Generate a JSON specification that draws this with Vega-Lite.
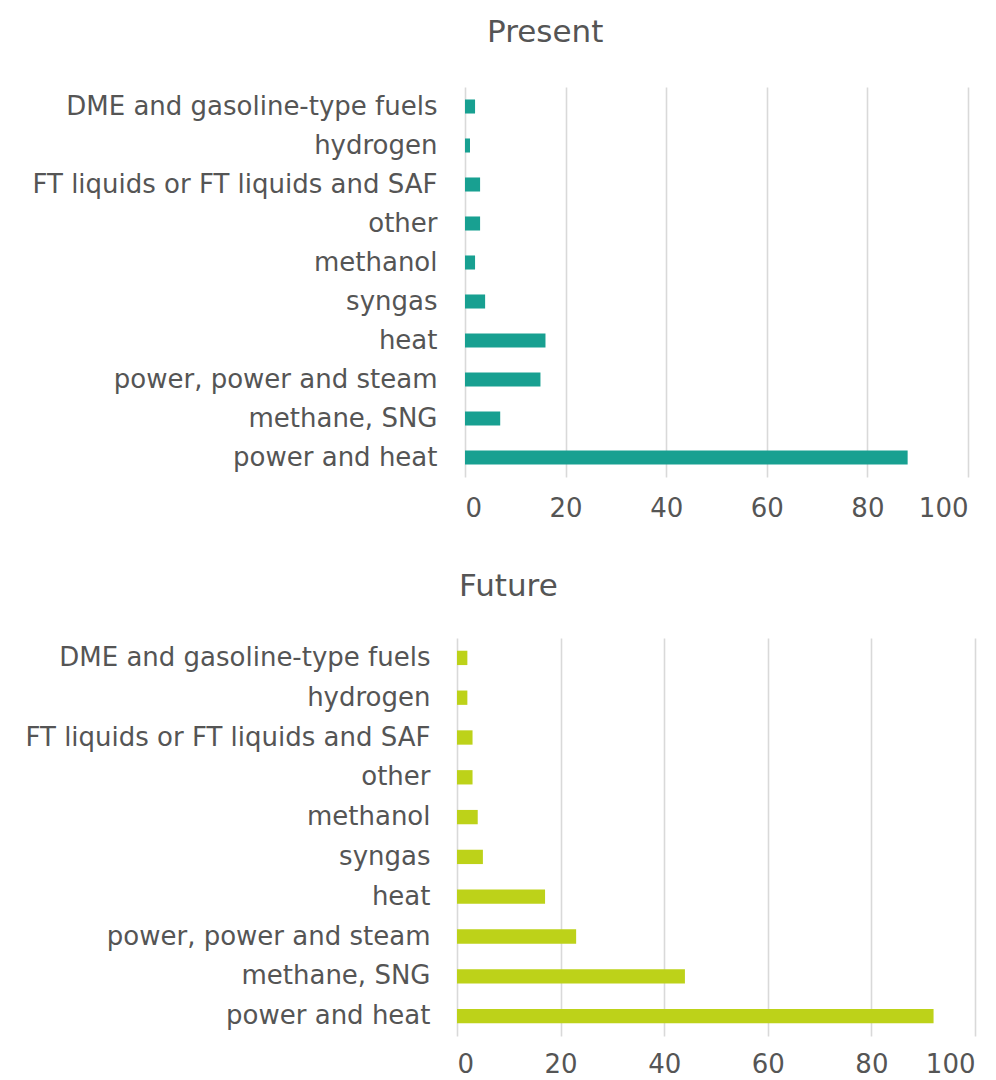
{
  "$schema": "https://vega.github.io/schema/vega-lite/v6.json",
  "background": "white",
  "padding": {"left": 8, "top": 17, "right": 14, "bottom": 4},
  "datasets": {
    "uses": [
      {"period": "Present", "use": "DME and gasoline-type fuels", "value": 2},
      {"period": "Present", "use": "hydrogen", "value": 1},
      {"period": "Present", "use": "FT liquids or FT liquids and SAF", "value": 3},
      {"period": "Present", "use": "other", "value": 3},
      {"period": "Present", "use": "methanol", "value": 2},
      {"period": "Present", "use": "syngas", "value": 4},
      {"period": "Present", "use": "heat", "value": 16},
      {"period": "Present", "use": "power, power and steam", "value": 15},
      {"period": "Present", "use": "methane, SNG", "value": 7},
      {"period": "Present", "use": "power and heat", "value": 88},
      {"period": "Future", "use": "DME and gasoline-type fuels", "value": 2},
      {"period": "Future", "use": "hydrogen", "value": 2},
      {"period": "Future", "use": "FT liquids or FT liquids and SAF", "value": 3},
      {"period": "Future", "use": "other", "value": 3},
      {"period": "Future", "use": "methanol", "value": 4},
      {"period": "Future", "use": "syngas", "value": 5},
      {"period": "Future", "use": "heat", "value": 17},
      {"period": "Future", "use": "power, power and steam", "value": 23},
      {"period": "Future", "use": "methane, SNG", "value": 44},
      {"period": "Future", "use": "power and heat", "value": 92}
    ]
  },
  "data": {"name": "uses"},
  "vconcat": [
    {
      "width": 511,
      "height": 390,
      "title": {"text": "Present", "dx": 30, "offset": 38},
      "transform": [{"filter": "datum.period === 'Present'"}],
      "mark": {"type": "bar", "color": "#18A091"},
      "encoding": {
        "y": {
          "field": "use",
          "type": "nominal",
          "sort": ["DME and gasoline-type fuels", "hydrogen", "FT liquids or FT liquids and SAF", "other", "methanol", "syngas", "heat", "power, power and steam", "methane, SNG", "power and heat"],
          "scale": {"paddingInner": 0.64, "paddingOuter": 0.32},
          "axis": {"title": null, "labelPadding": 20, "minExtent": 449}
        },
        "x": {
          "field": "value",
          "type": "quantitative",
          "scale": {"domain": [0, 100], "range": [8, 511]},
          "axis": {"title": null, "values": [0, 20, 40, 60, 80, 100], "labelPadding": 18}
        }
      }
    },
    {
      "width": 518,
      "height": 398,
      "title": {"text": "Future", "dx": 2, "offset": 35},
      "transform": [{"filter": "datum.period === 'Future'"}],
      "mark": {"type": "bar", "color": "#BDD219"},
      "encoding": {
        "y": {
          "field": "use",
          "type": "nominal",
          "sort": ["DME and gasoline-type fuels", "hydrogen", "FT liquids or FT liquids and SAF", "other", "methanol", "syngas", "heat", "power, power and steam", "methane, SNG", "power and heat"],
          "scale": {"paddingInner": 0.64, "paddingOuter": 0.32},
          "axis": {"title": null, "labelPadding": 27, "minExtent": 449}
        },
        "x": {
          "field": "value",
          "type": "quantitative",
          "scale": {"domain": [0, 100]},
          "axis": {"title": null, "values": [0, 20, 40, 60, 80, 100], "labelPadding": 15}
        }
      }
    }
  ],
  "spacing": 50,
  "config": {
    "font": "DejaVu Sans",
    "view": {"stroke": null},
    "title": {
      "anchor": "start",
      "frame": "group",
      "fontSize": 31,
      "fontWeight": "normal",
      "color": "#555555"
    },
    "axis": {
      "domain": false,
      "ticks": false,
      "labelFontSize": 26,
      "labelColor": "#555555",
      "labelFont": "DejaVu Sans"
    },
    "axisY": {"grid": false, "labelLimit": 500},
    "axisX": {"grid": true, "gridColor": "#d9d9d9", "gridWidth": 1.6}
  }
}
